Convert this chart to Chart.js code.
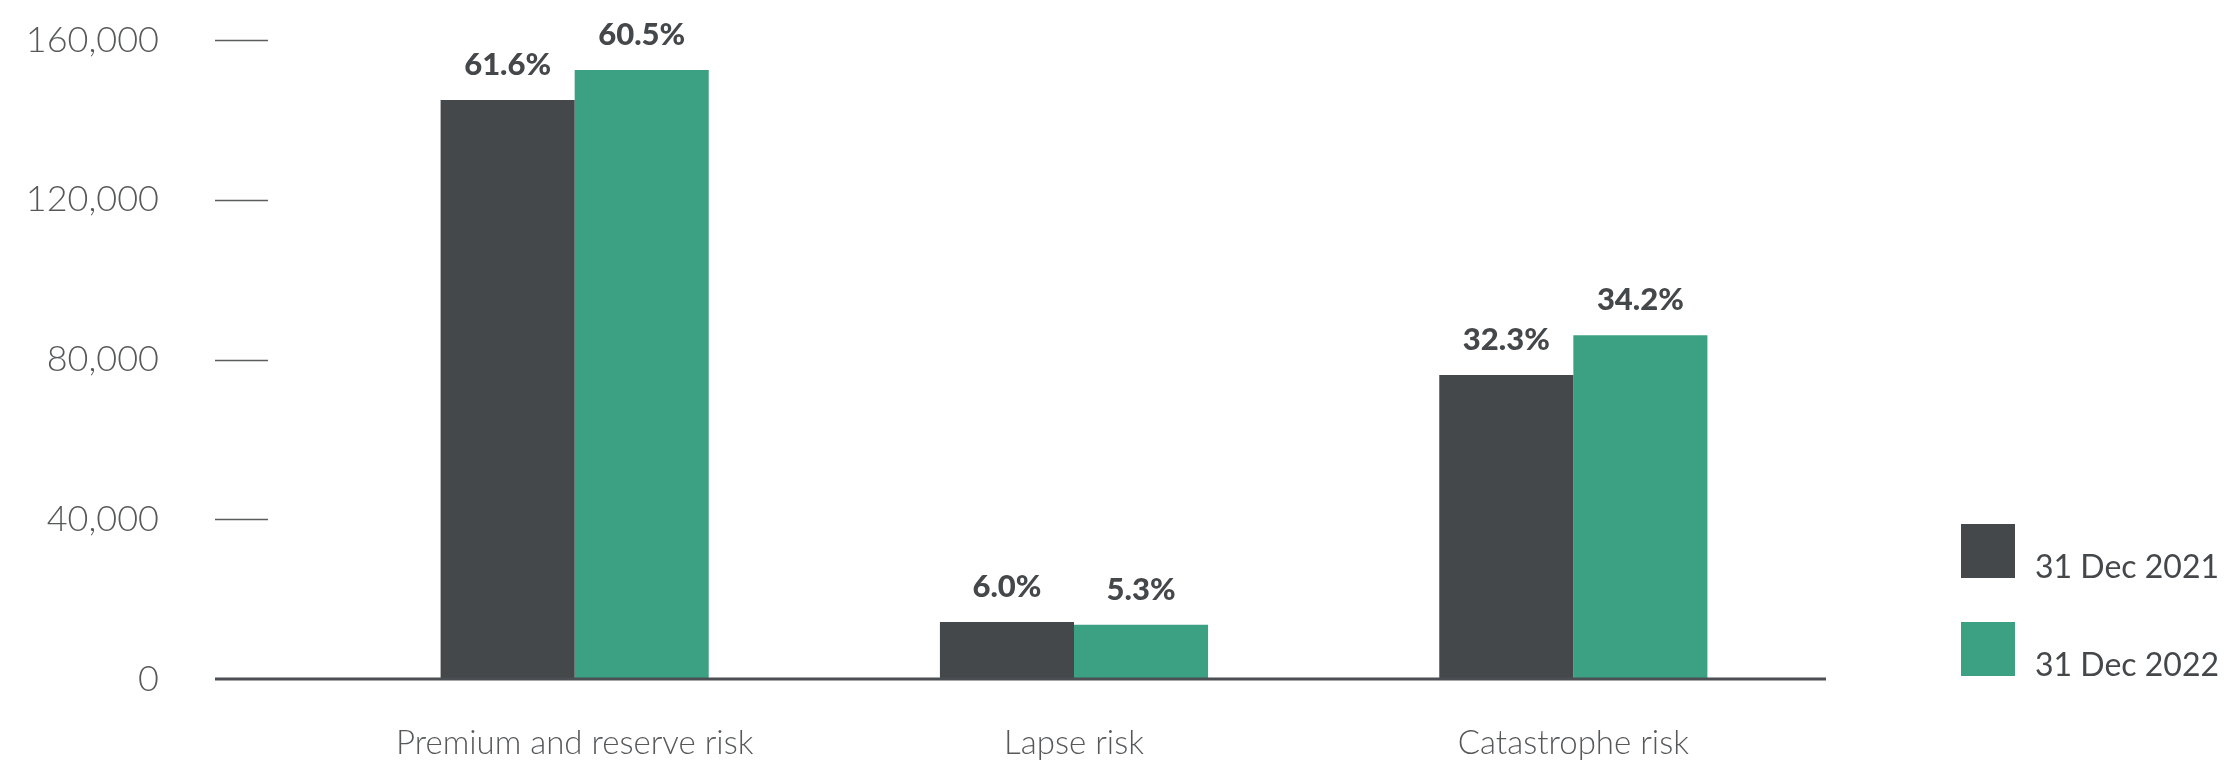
<!DOCTYPE html>
<html>
<head>
<meta charset="utf-8">
<title>Risk breakdown</title>
<script src="https://cdn.jsdelivr.net/npm/chart.js@4.4.1/dist/chart.umd.min.js"></script>
<style>
    html, body { margin: 0; padding: 0; background: #fff; }
    canvas { display: block; }
</style>
</head>
<body>
<canvas id="chart" width="2228" height="773"></canvas>
<script>
// Categories and series
const categorias = ['Premium and reserve risk', 'Lapse risk', 'Catastrophe risk'];
const serieNombres = ['31 Dec 2021', '31 Dec 2022'];
const valores2021 = [145000, 14300, 76100];
const valores2022 = [152500, 13600, 86100];
const etiquetas2021 = ['61.6%', '6.0%', '32.3%'];
const etiquetas2022 = ['60.5%', '5.3%', '34.2%'];
const ticksY = [0, 40000, 80000, 120000, 160000];

const COLOR_OSCURO = '#45484b';
const COLOR_VERDE = '#3ca183';
const COLOR_TEXTO = '#56585a';

document.addEventListener("DOMContentLoaded", () => {
    crearGraficoBarras();
});

// Short dashes next to the y labels plus the heavier baseline
const marcasEjeY = {
    id: 'marcasEjeY',
    afterDraw(chart) {
        const { ctx, chartArea, scales } = chart;
        const y = scales.y;
        const x0 = chartArea.left - 110;
        ctx.save();
        ctx.strokeStyle = '#5a5c5e';
        ctx.lineWidth = 1.5;
        ticksY.forEach(v => {
            if (v === 0) return;
            const py = Math.round(y.getPixelForValue(v)) + 0.5;
            ctx.beginPath();
            ctx.moveTo(x0, py);
            ctx.lineTo(chartArea.left - 57, py);
            ctx.stroke();
        });
        const base = y.getPixelForValue(0);
        ctx.strokeStyle = '#4b4e52';
        ctx.lineWidth = 3;
        ctx.beginPath();
        ctx.moveTo(x0, base);
        ctx.lineTo(chartArea.right + 3, base);
        ctx.stroke();
        ctx.restore();
    }
};

// Percentage labels above each bar
const etiquetasBarras = {
    id: 'etiquetasBarras',
    afterDatasetsDraw(chart) {
        const { ctx } = chart;
        const textos = [etiquetas2021, etiquetas2022];
        ctx.save();
        ctx.fillStyle = COLOR_OSCURO;
        ctx.font = '900 31px Lato';
        ctx.textAlign = 'center';
        ctx.textBaseline = 'alphabetic';
        chart.data.datasets.forEach((ds, i) => {
            chart.getDatasetMeta(i).data.forEach((bar, j) => {
                ctx.fillText(textos[i][j], bar.x, bar.y - 25);
            });
        });
        ctx.restore();
    }
};

// Legend at the right, text sitting on the bottom of each swatch
const leyenda = {
    id: 'leyenda',
    afterDraw(chart) {
        const { ctx } = chart;
        const xCaja = 1961, yCaja = 524, lado = 54, paso = 98;
        ctx.save();
        ctx.font = '32px Lato';
        ctx.textBaseline = 'alphabetic';
        chart.data.datasets.forEach((ds, i) => {
            const top = yCaja + i * paso;
            ctx.fillStyle = ds.backgroundColor;
            ctx.fillRect(xCaja, top, lado, lado);
            ctx.fillStyle = COLOR_OSCURO;
            ctx.fillText(ds.label, xCaja + 74, top + lado);
        });
        ctx.restore();
    }
};

function crearGraficoBarras() {
    const ctx = document.getElementById('chart').getContext('2d');

    new Chart(ctx, {
        type: 'bar',
        data: {
            labels: categorias,
            datasets: [{
                label: serieNombres[0],
                data: valores2021,
                backgroundColor: COLOR_OSCURO,
                categoryPercentage: 0.537,
                barPercentage: 1.0
            }, {
                label: serieNombres[1],
                data: valores2022,
                backgroundColor: COLOR_VERDE,
                categoryPercentage: 0.537,
                barPercentage: 1.0
            }]
        },
        options: {
            responsive: false,
            devicePixelRatio: 1,
            animation: false,
            layout: {
                padding: { top: 40, right: 405, bottom: 0, left: 0 }
            },
            scales: {
                x: {
                    grid: { display: false, drawTicks: false },
                    border: { display: false },
                    ticks: {
                        padding: 45,
                        color: COLOR_TEXTO,
                        font: { family: 'Lato', size: 33, weight: 300 }
                    },
                    afterFit: scale => {
                        scale.height = 94;
                        scale.paddingLeft = 0;
                        scale.paddingRight = 0;
                    }
                },
                y: {
                    min: 0,
                    max: 160000,
                    grid: { display: false, drawTicks: false },
                    border: { display: false },
                    afterBuildTicks: scale => {
                        scale.ticks = ticksY.map(v => ({ value: v }));
                    },
                    ticks: {
                        padding: 166,
                        color: COLOR_TEXTO,
                        font: { family: 'Lato', size: 36, weight: 300 },
                        callback: value => value.toLocaleString('en-US')
                    },
                    // the wide label gap must not push the plot area down
                    afterFit: scale => {
                        scale.width = 325;
                        scale.paddingTop = 0;
                        scale.paddingBottom = 0;
                    }
                }
            },
            plugins: {
                legend: { display: false },
                tooltip: { enabled: false }
            }
        },
        plugins: [marcasEjeY, etiquetasBarras, leyenda]
    });
}
</script>
</body>
</html>
